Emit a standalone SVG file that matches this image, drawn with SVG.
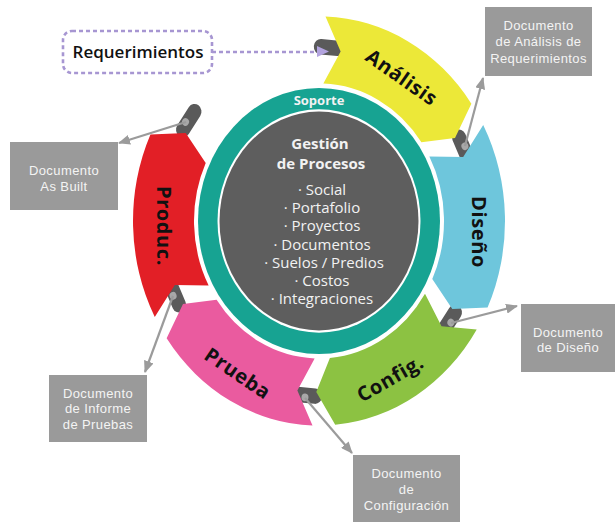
<svg xmlns="http://www.w3.org/2000/svg" width="616" height="522" viewBox="0 0 616 522">
<defs>
<style>
.seg-label{font-family:"Open Sans","Liberation Sans",sans-serif;font-weight:700;font-size:20px;fill:#111;text-anchor:middle;dominant-baseline:central;letter-spacing:0.6px}
.doc rect{fill:#9a9a9a}
.doc text{font-family:"Liberation Sans","Open Sans",sans-serif;font-size:13px;letter-spacing:0.4px;fill:#f4f4f4;text-anchor:middle}
.center-t{font-family:"Open Sans","Liberation Sans",sans-serif;fill:#f2f2f2;text-anchor:middle}
.pill{fill:#5a5a5a}
.dot{fill:#a8a8a8}
.conn{stroke:#9b9b9b;stroke-width:2.2;fill:none;marker-end:url(#ah)}
.dotted{stroke:#a796d2;stroke-width:2.6;fill:none;stroke-dasharray:4 3}
</style>
<marker id="ah" viewBox="0 0 12 10" refX="11" refY="5" markerWidth="12" markerHeight="10" markerUnits="userSpaceOnUse" orient="auto">
<path d="M0,0 L12,5 L0,10 z" fill="#9b9b9b"/>
</marker>
</defs>

<!-- ring shapes -->
<g id="ring" transform="translate(319,221) scale(1,1.1)">
  <g id="pills">
    <rect class="pill" x="-19" y="-7" width="34" height="14" rx="7" transform="rotate(-85) translate(158,0) rotate(90)"/>
    <rect class="pill" x="-17" y="-7" width="34" height="14" rx="7" transform="rotate(-25) translate(159,0) rotate(90)"/>
    <rect class="pill" x="-17" y="-7" width="34" height="14" rx="7" transform="rotate(35) translate(159,0) rotate(90)"/>
    <rect class="pill" x="-17" y="-7" width="34" height="14" rx="7" transform="rotate(95) translate(159,0) rotate(90)"/>
    <rect class="pill" x="-17" y="-7" width="34" height="14" rx="7" transform="rotate(155) translate(159,0) rotate(90)"/>
    <rect class="pill" x="-17" y="-7" width="34" height="14" rx="7" transform="rotate(215) translate(159,0) rotate(90)"/>
  </g>
  <g id="analisis"><path fill="#ece838" d="M6.49,-185.89 A186,186 0 0 1 152.36,-106.69 L136.00,-75.39 L102.40,-71.70 A125,125 0 0 0 4.36,-124.92 L21.64,-153.99 Z"/></g>
  <g id="diseno"><path fill="#6ec6dc" d="M164.22,-87.33 A186,186 0 0 1 168.57,78.60 L133.29,80.08 L113.29,52.83 A125,125 0 0 0 110.36,-58.69 L144.18,-58.25 Z"/></g>
  <g id="config"><path fill="#8cc242" d="M157.73,98.56 A186,186 0 0 1 16.21,185.29 L-2.71,155.48 L10.89,124.53 A125,125 0 0 0 106.00,66.24 L122.53,95.74 Z"/></g>
  <g id="prueba"><path fill="#ea5b9f" d="M-6.49,185.89 A186,186 0 0 1 -152.36,106.69 L-136.00,75.39 L-102.40,71.70 A125,125 0 0 0 -4.36,124.92 L-21.64,153.99 Z"/></g>
  <g id="produc"><path fill="#e21f26" d="M-164.22,87.33 A186,186 0 0 1 -168.57,-78.60 L-133.29,-80.08 L-113.29,-52.83 A125,125 0 0 0 -110.36,58.69 L-144.18,58.25 Z"/></g>
  <g id="dots">
    <circle class="dot" r="3.5" transform="rotate(-25) translate(161,0)"/>
    <circle class="dot" r="3.5" transform="rotate(35) translate(161,0)"/>
    <circle class="dot" r="3.5" transform="rotate(95) translate(161,0)"/>
    <circle class="dot" r="3.5" transform="rotate(155) translate(161,0)"/>
    <circle class="dot" r="3.5" transform="rotate(214) translate(161,0)"/>
  </g>
  <g id="soporte-ring">
    <circle r="121" fill="#17a392"/>
    <circle r="101.5" fill="#ffffff"/>
    <circle r="99.5" fill="#5e5e5e"/>
  </g>
</g>

<!-- labels -->
<text class="seg-label" transform="translate(402,77) rotate(35)">Análisis</text>
<text class="seg-label" transform="translate(479,232) rotate(90)">Diseño</text>
<text class="seg-label" transform="translate(390,378) rotate(-30)">Config.</text>
<text class="seg-label" transform="translate(238,373) rotate(34)">Prueba</text>
<text class="seg-label" transform="translate(164,226) rotate(90)">Produc.</text>

<!-- center -->
<g id="centro">
  <text class="center-t" x="319" y="105" font-size="13" font-weight="700">Soporte</text>
  <text class="center-t" x="320" y="148.5" font-size="15" font-weight="700">Gestión</text>
  <text class="center-t" x="321" y="168.5" font-size="15" font-weight="700">de Procesos</text>
  <text class="center-t" x="322" y="195" font-size="15">· Social</text>
  <text class="center-t" x="322" y="213.2" font-size="15">· Portafolio</text>
  <text class="center-t" x="322" y="231.4" font-size="15">· Proyectos</text>
  <text class="center-t" x="322" y="249.6" font-size="15">· Documentos</text>
  <text class="center-t" x="324" y="267.8" font-size="15">· Suelos / Predios</text>
  <text class="center-t" x="322" y="286" font-size="15">· Costos</text>
  <text class="center-t" x="322" y="304.2" font-size="15">· Integraciones</text>
</g>

<!-- requerimientos -->
<g id="requerimientos">
  <rect x="63" y="31" width="149" height="42" rx="9" fill="#ffffff" class="dotted"/>
  <text x="138" y="58" font-family="'Open Sans','Liberation Sans',sans-serif" font-size="17" font-weight="600" fill="#111" text-anchor="middle">Requerimientos</text>
</g>

<!-- documents -->
<g id="doc-analisis" class="doc">
  <rect x="485" y="7" width="107" height="69"/>
  <text x="538.5" y="29.5">Documento</text>
  <text x="538.5" y="46">de Análisis de</text>
  <text x="538.5" y="62.5">Requerimientos</text>
</g>
<g id="doc-asbuilt" class="doc">
  <rect x="10" y="142" width="108" height="68"/>
  <text x="64" y="174.5">Documento</text>
  <text x="64" y="190.5">As Built</text>
</g>
<g id="doc-diseno" class="doc">
  <rect x="521" y="304" width="94" height="68"/>
  <text x="568" y="336.5">Documento</text>
  <text x="568" y="352">de Diseño</text>
</g>
<g id="doc-pruebas" class="doc">
  <rect x="49" y="375" width="98" height="67"/>
  <text x="98" y="397.5">Documento</text>
  <text x="98" y="413">de Informe</text>
  <text x="98" y="429">de Pruebas</text>
</g>
<g id="doc-config" class="doc">
  <rect x="353" y="455" width="107" height="67"/>
  <text x="406.5" y="477.5">Documento</text>
  <text x="406.5" y="493.5">de</text>
  <text x="406.5" y="509.5">Configuración</text>
</g>

<!-- connectors -->
<g id="connectors">
  <line class="dotted" x1="212" y1="52" x2="316" y2="52"/>
  <path d="M317,46 L329,51.5 L317,57 Z" fill="#b3a4df"/>
  <line class="conn" x1="465" y1="146" x2="483" y2="78"/>
  <line class="conn" x1="186" y1="122" x2="119" y2="143"/>
  <line class="conn" x1="451" y1="323" x2="517" y2="306"/>
  <line class="conn" x1="305" y1="398" x2="352" y2="453"/>
  <line class="conn" x1="173" y1="296" x2="145" y2="372"/>
</g>
</svg>
